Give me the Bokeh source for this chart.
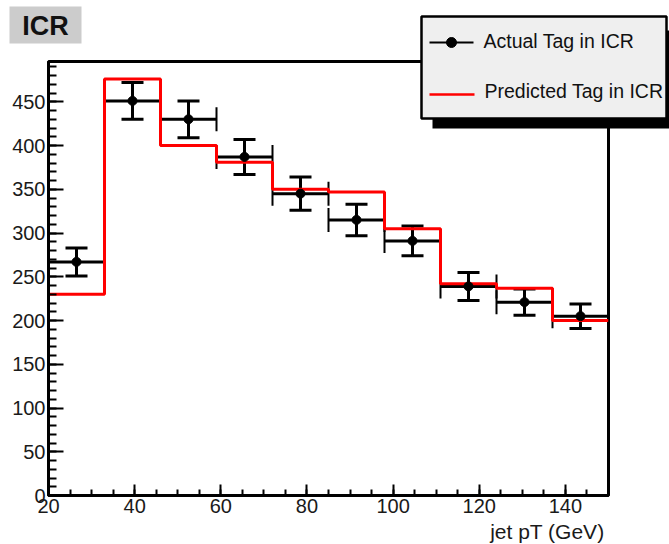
from bokeh.plotting import figure
from bokeh.layouts import column
from bokeh.models import (ColumnDataSource, Whisker, TeeHead, SingleIntervalTicker, Range1d)
from bokeh.core.properties import value
from bokeh.embed import file_html
from bokeh.resources import INLINE

# ---- data ----
bin_edges = [20, 33, 46, 59, 72, 85, 98, 111, 124, 137, 150]
predicted = [230, 476, 400, 381, 350, 347, 305, 242, 237, 200]
actual = [267, 451, 430, 387, 345, 315, 291, 239, 221, 205]
actual_err = [16, 21, 21, 20, 19, 18, 17, 16, 15, 14]
legend_labels = ["Actual Tag in ICR", "Predicted Tag in ICR"]
title_text = "ICR"
x_title = "jet pT (GeV)"

lefts = bin_edges[:-1]
rights = bin_edges[1:]
centers = [(a + b) / 2 for a, b in zip(lefts, rights)]
src = ColumnDataSource(dict(
    x=centers, y=actual,
    lo=[v - e for v, e in zip(actual, actual_err)],
    hi=[v + e for v, e in zip(actual, actual_err)],
    xl=lefts, xr=rights,
))

FONT = "Liberation Sans"
W, H = 669, 544

# ---------------- main plot ----------------
p = figure(width=W, height=H, x_range=(20, 150), y_range=(0, 496),
           output_backend="svg", toolbar_location=None,
           min_border_left=48, min_border_right=61, min_border_top=61, min_border_bottom=49)
p.xgrid.visible = False
p.ygrid.visible = False
p.outline_line_color = "black"
p.outline_line_width = 3
p.background_fill_color = "white"
p.border_fill_color = "white"

p.xaxis.ticker = SingleIntervalTicker(interval=20, num_minor_ticks=4)
p.yaxis.ticker = SingleIntervalTicker(interval=50, num_minor_ticks=5)
for ax in (p.xaxis[0], p.yaxis[0]):
    ax.axis_line_color = "black"
    ax.axis_line_width = 3
    ax.major_tick_line_color = "black"
    ax.minor_tick_line_color = "black"
    ax.major_tick_line_width = 2
    ax.minor_tick_line_width = 2
    ax.major_tick_out = 0
    ax.minor_tick_out = 0
    ax.major_label_text_font = FONT
    ax.major_label_text_font_size = "20px"
    ax.major_label_text_color = "#1a1a1a"
    ax.major_label_standoff = 3
p.yaxis.major_tick_in = 15
p.yaxis.minor_tick_in = 8
p.xaxis.major_tick_in = 11
p.xaxis.minor_tick_in = 6

wy = Whisker(source=src, base="x", lower="lo", upper="hi", dimension="height",
             line_color="black", line_width=3, level="underlay",
             upper_head=TeeHead(size=22, line_width=3, line_color="black"),
             lower_head=TeeHead(size=22, line_width=3, line_color="black"))
wx = Whisker(source=src, base="y", lower="xl", upper="xr", dimension="width",
             line_color="black", line_width=3, level="underlay",
             upper_head=TeeHead(size=24, line_width=2, line_color="black"),
             lower_head=TeeHead(size=24, line_width=2, line_color="black"))
p.add_layout(wx)
p.add_layout(wy)

p.step(x=bin_edges, y=predicted + [predicted[-1]], mode="after",
       line_color="#ff0000", line_width=3)
p.scatter(x="x", y="y", source=src, size=9, color="black")

# ---------------- transparent overlay for the decorations (pixel coords) ----------------
o = figure(width=W, height=H, x_range=Range1d(0, W), y_range=Range1d(H, 0),
           output_backend="svg", toolbar_location=None,
           x_axis_type=None, y_axis_type=None, min_border=0,
           min_border_left=0, min_border_right=0, min_border_top=0, min_border_bottom=0)
o.xgrid.visible = False
o.ygrid.visible = False
o.outline_line_color = None
o.background_fill_alpha = 0
o.border_fill_alpha = 0

# "ICR" tag
o.quad(left=[9], right=[81], top=[6], bottom=[43], fill_color="#cccccc", line_color=None)
o.text(x=[45], y=[25], text=[title_text], text_align="center", text_baseline="middle",
       text_font=value(FONT), text_font_style="bold", text_font_size="27px", text_color="#111111")

# legend box with shadow
o.quad(left=[432], right=[700], top=[30], bottom=[128], fill_color="black", line_color=None)
o.quad(left=[421], right=[666], top=[16], bottom=[118], fill_color="#efefef",
       line_color="black", line_width=2.5)
o.line(x=[429, 473], y=[42, 42], line_color="black", line_width=2)
o.scatter(x=[451], y=[42], size=10, color="black")
o.text(x=[483], y=[40], text=[legend_labels[0]], text_align="left", text_baseline="middle",
       text_font=value(FONT), text_font_size="19.5px", text_color="#111111")
o.line(x=[429, 474], y=[94, 94], line_color="#ff0000", line_width=2.5)
o.text(x=[484], y=[90], text=[legend_labels[1]], text_align="left", text_baseline="middle",
       text_font=value(FONT), text_font_size="19.5px", text_color="#111111")

# x-axis title (right aligned at the end of the axis)
o.text(x=[604], y=[531], text=[x_title], text_align="right", text_baseline="middle",
       text_font=value(FONT), text_font_size="21px", text_color="#1a1a1a")

overlay = column(o, spacing=0)
overlay.margin = (-H, 0, 0, 0)
layout = column(p, overlay, spacing=0)
open("out.html", "w").write(file_html(layout, INLINE))
